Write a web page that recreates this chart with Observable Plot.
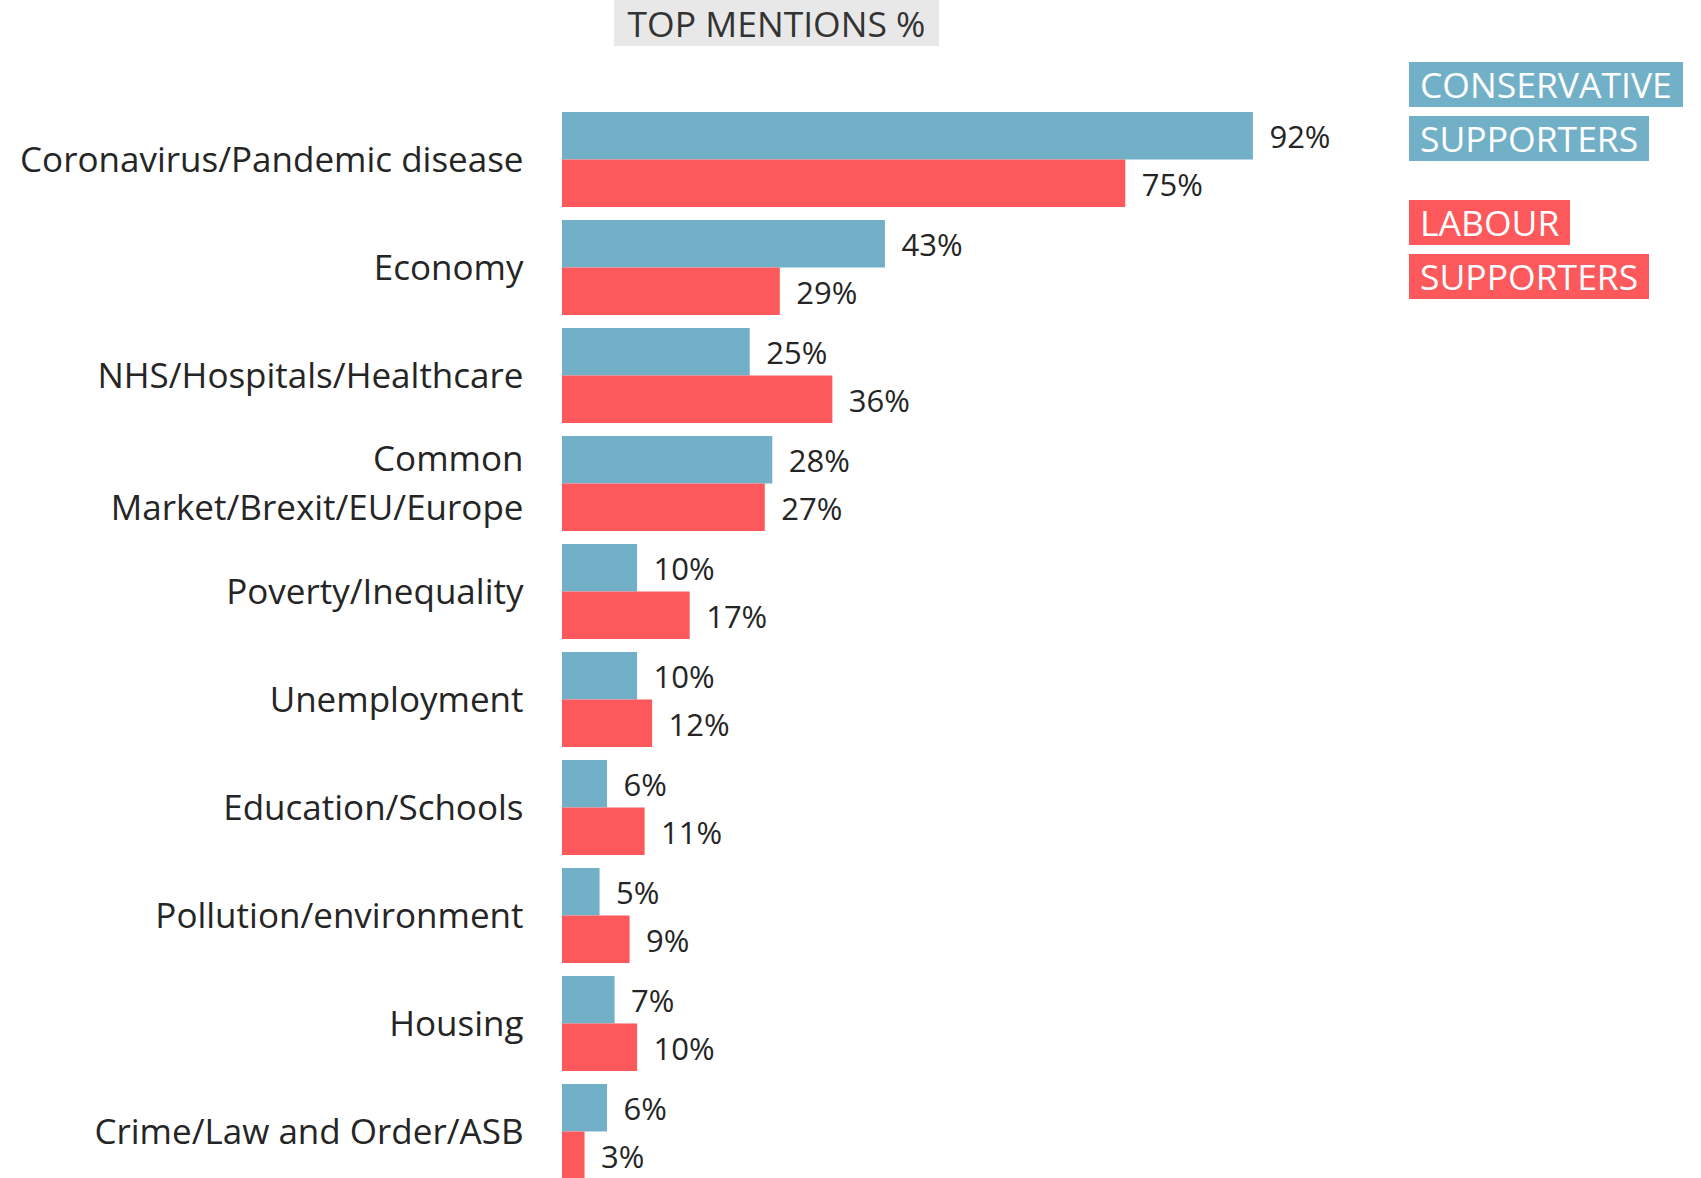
<!DOCTYPE html>
<html>
<head>
<meta charset="utf-8">
<script src="https://cdn.jsdelivr.net/npm/d3@7"></script>
<script src="https://cdn.jsdelivr.net/npm/@observablehq/plot@0.6"></script>
<style>
  html, body { margin: 0; padding: 0; background: #fff; overflow: hidden; }
  body { width: 1701px; height: 1178px; position: relative; font-family: "Open Sans", "Noto Sans", sans-serif; }
  #chart { position: absolute; left: 0; top: 0; }
  .title { position: absolute; left: 614px; top: 0; width: 325px; height: 46px; background: #e8e8e8; color: #333;
           font-size: 35.5px; line-height: 46px; text-align: center; }
  .leg { position: absolute; left: 1409px; height: 45px; line-height: 45px; color: #fff; font-size: 35.5px; padding: 0 11px; box-sizing: border-box; }
  .cons { background: #72b0c8; }
  .lab { background: #fd585c; }
</style>
</head>
<body>
<div id="chart"></div>
<div class="title">TOP MENTIONS %</div>
<div class="leg cons" style="top:62px;">CONSERVATIVE</div>
<div class="leg cons" style="top:116px;">SUPPORTERS</div>
<div class="leg lab" style="top:200px;">LABOUR</div>
<div class="leg lab" style="top:254px;">SUPPORTERS</div>
<script>
const categories = [
  "Coronavirus/Pandemic disease",
  "Economy",
  "NHS/Hospitals/Healthcare",
  "Common\nMarket/Brexit/EU/Europe",
  "Poverty/Inequality",
  "Unemployment",
  "Education/Schools",
  "Pollution/environment",
  "Housing",
  "Crime/Law and Order/ASB"
];
const series = ["Conservative supporters", "Labour supporters"];
const conservative = [92, 43, 25, 28, 10, 10, 6, 5, 7, 6];
const labour = [75, 29, 36, 27, 17, 12, 11, 9, 10, 3];
const colors = ["#72b0c8", "#fd585c"];

const data = [];
categories.forEach((c, i) => {
  data.push({category: c, party: series[0], value: conservative[i]});
  data.push({category: c, party: series[1], value: labour[i]});
});

const chart = Plot.plot({
  width: 1701,
  height: 1179,
  marginLeft: 562,
  marginRight: 388,
  marginTop: 112,
  marginBottom: 0,
  style: {fontFamily: "'Open Sans', 'Noto Sans', sans-serif", background: "transparent"},
  x: {domain: [0, 100], axis: null},
  y: {domain: series, axis: null, padding: 0, round: false},
  fy: {domain: categories, axis: null, paddingInner: 0.12, paddingOuter: 0, round: false},
  color: {domain: series, range: colors},
  marks: [
    Plot.barX(data, {x: "value", y: "party", fy: "category", fill: "party"}),
    Plot.text(data, {x: "value", y: "party", fy: "category", text: d => d.value + "%",
      textAnchor: "start", dx: 16, dy: 2, fontSize: 31, fill: "#252525"}),
    Plot.text(categories, {fy: d => d, text: d => d, frameAnchor: "left", textAnchor: "end",
      lineAnchor: "middle", dx: -39, dy: -4, fontSize: 35, fill: "#252525", lineHeight: 1.4})
  ]
});
document.getElementById("chart").appendChild(chart);
</script>
</body>
</html>
